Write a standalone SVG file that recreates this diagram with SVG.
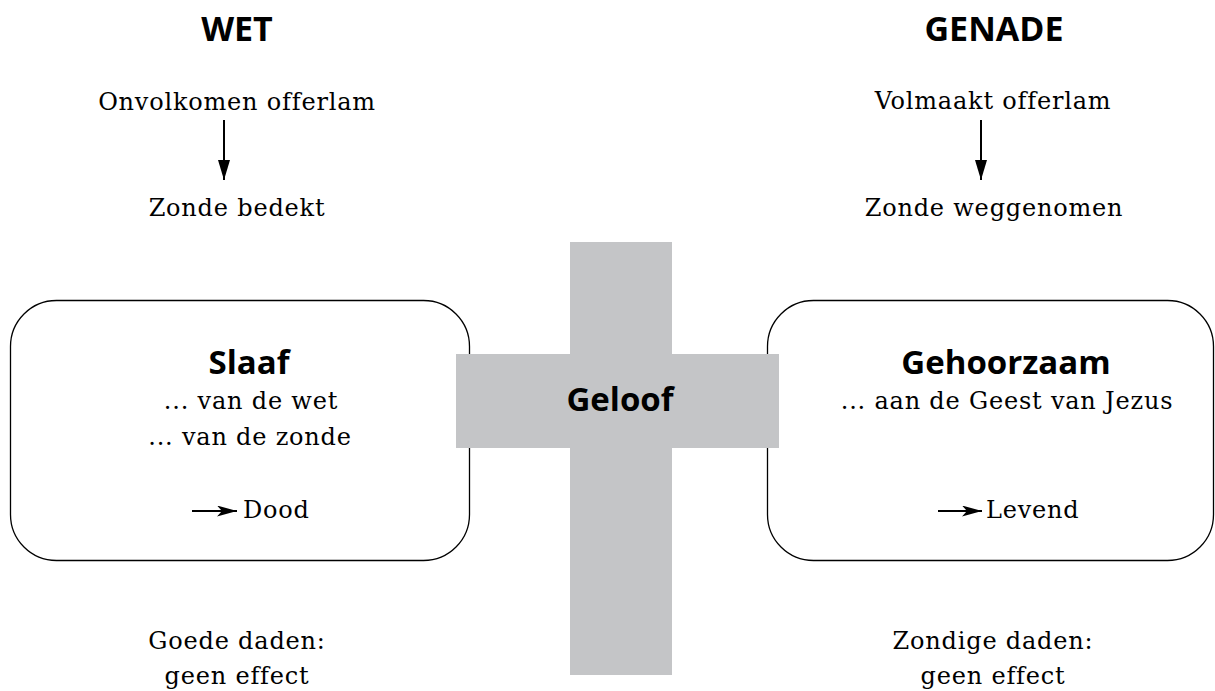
<svg xmlns="http://www.w3.org/2000/svg" width="1215" height="691" viewBox="0 0 1215 691">
<style>
.h{font-family:"Open Sans","DejaVu Sans",sans-serif;font-weight:bold;font-size:34px;fill:#000;text-anchor:middle}
.b{font-family:"Open Sans","DejaVu Sans",sans-serif;font-weight:bold;font-size:33px;fill:#000;text-anchor:middle}
.t{font-family:"DejaVu Serif","Liberation Serif",serif;font-size:24px;letter-spacing:0.8px;fill:#000;text-anchor:middle}
.tl{font-family:"DejaVu Serif","Liberation Serif",serif;font-size:24px;letter-spacing:0.8px;fill:#000}
.box{fill:#fff;stroke:#000;stroke-width:1.3}
.cross{fill:#c4c5c7}
.ln{stroke:#000;stroke-width:2;fill:none}
</style>
<defs>
<marker id="ah" viewBox="0 0 20 12" refX="20" refY="6" markerWidth="20" markerHeight="12" markerUnits="userSpaceOnUse" orient="auto">
<path d="M0,0 L20,6 L0,12 z" fill="#000"/>
</marker>
<marker id="ah2" viewBox="0 0 20 11" refX="20" refY="5.5" markerWidth="20" markerHeight="11" markerUnits="userSpaceOnUse" orient="auto">
<path d="M0,0 L20,5.5 L0,11 L5,5.5 z" fill="#000"/>
</marker>
</defs>
<g id="wet">
<text class="h" x="237" y="41">WET</text>
<text class="t" x="237" y="110">Onvolkomen offerlam</text>
<text class="t" x="237" y="216">Zonde bedekt</text>
</g>
<g id="genade">
<text class="h" x="994" y="41">GENADE</text>
<text class="t" x="993" y="109">Volmaakt offerlam</text>
<text class="t" x="994" y="216">Zonde weggenomen</text>
</g>
<g id="slaaf">
<rect class="box" x="10.5" y="300.5" width="459" height="260" rx="46" ry="46"/>
<text class="b" x="249" y="374">Slaaf</text>
<text class="t" x="251" y="409">... van de wet</text>
<text class="t" x="250" y="445">... van de zonde</text>
<text class="tl" x="243" y="518">Dood</text>
</g>
<g id="gehoorzaam">
<rect class="box" x="767.5" y="300.5" width="446" height="260" rx="46" ry="46"/>
<text class="b" x="1006" y="374">Gehoorzaam</text>
<text class="t" x="1007" y="409">... aan de Geest van Jezus</text>
<text class="tl" x="986" y="518">Levend</text>
</g>
<g id="geloof">
<rect class="cross" x="570" y="242" width="102" height="433"/>
<rect class="cross" x="456" y="354" width="323" height="94"/>
<text class="b" x="620" y="411">Geloof</text>
</g>
<g id="goede">
<text class="t" x="237" y="649">Goede daden:</text>
<text class="t" x="237" y="684">geen effect</text>
</g>
<g id="zondige">
<text class="t" x="993" y="649">Zondige daden:</text>
<text class="t" x="993" y="684">geen effect</text>
</g>
<g id="connectors">
<line class="ln" x1="224" y1="120" x2="224" y2="180" marker-end="url(#ah)"/>
<line class="ln" x1="981" y1="120" x2="981" y2="180" marker-end="url(#ah)"/>
<line class="ln" x1="192" y1="511" x2="237" y2="511" marker-end="url(#ah2)"/>
<line class="ln" x1="938" y1="511" x2="982" y2="511" marker-end="url(#ah2)"/>
</g>
</svg>
